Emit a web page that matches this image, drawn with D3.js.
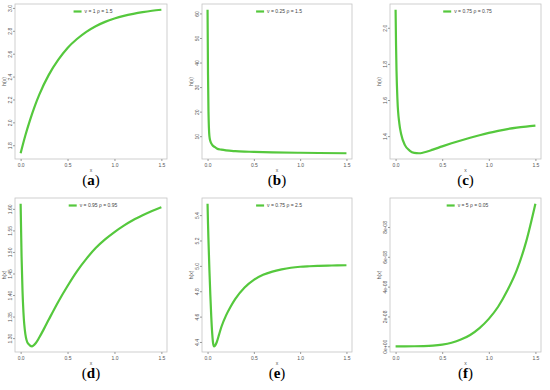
<!DOCTYPE html>
<html>
<head>
<meta charset="utf-8">
<script src="https://cdn.jsdelivr.net/npm/d3@7"></script>
<style>
  body { margin: 0; background: #fff; }
  text { font-family: "Liberation Sans", Arial, sans-serif; }
</style>
</head>
<body>
<div id="chart"></div>
<script>
// values
const xA = [0, 0.05, 0.1, 0.15, 0.2, 0.3, 0.4, 0.5, 0.6, 0.7, 0.8, 0.9, 1.0, 1.1, 1.2, 1.3, 1.4, 1.5];
const hA = [1.73, 1.885, 2.02, 2.14, 2.245, 2.415, 2.545, 2.65, 2.728, 2.791, 2.84, 2.878, 2.907, 2.93, 2.948, 2.963, 2.975, 2.984];

const xB = [0, 0.005, 0.01, 0.02, 0.03, 0.05, 0.08, 0.1, 0.15, 0.2, 0.3, 0.4, 0.5, 0.7, 1.0, 1.2, 1.5];
const hB = [61.5, 35, 20, 10, 8, 6.5, 5.5, 5.0, 4.5, 4.2, 3.9, 3.72, 3.6, 3.42, 3.25, 3.16, 3.05];

const xC = [0, 0.005, 0.01, 0.02, 0.04, 0.06, 0.1, 0.15, 0.2, 0.25, 0.3, 0.4, 0.5, 0.6, 0.7, 0.8, 0.9, 1.0, 1.1, 1.2, 1.3, 1.4, 1.5];
const hC = [2.10, 1.90, 1.76, 1.60, 1.47, 1.41, 1.35, 1.32, 1.307, 1.305, 1.309, 1.325, 1.343, 1.36, 1.376, 1.391, 1.405, 1.418, 1.429, 1.439, 1.447, 1.453, 1.458];

const xD = [0, 0.005, 0.01, 0.02, 0.03, 0.05, 0.08, 0.12, 0.16, 0.2, 0.25, 0.3, 0.4, 0.5, 0.6, 0.7, 0.8, 0.9, 1.0, 1.1, 1.2, 1.3, 1.4, 1.5];
const hD = [1.612, 1.55, 1.49, 1.41, 1.36, 1.31, 1.287, 1.281, 1.288, 1.302, 1.322, 1.343, 1.384, 1.421, 1.455, 1.484, 1.509, 1.529, 1.546, 1.561, 1.574, 1.585, 1.595, 1.604];

const xE = [0, 0.005, 0.01, 0.02, 0.03, 0.04, 0.05, 0.06, 0.07, 0.08, 0.1, 0.125, 0.15, 0.2, 0.25, 0.3, 0.4, 0.5, 0.6, 0.7, 0.8, 0.9, 1.0, 1.1, 1.2, 1.3, 1.4, 1.5];
const hE = [5.49, 5.33, 5.20, 4.97, 4.77, 4.60, 4.47, 4.39, 4.366, 4.37, 4.40, 4.46, 4.52, 4.61, 4.68, 4.74, 4.83, 4.89, 4.93, 4.955, 4.972, 4.985, 4.993, 4.997, 5.0, 5.002, 5.004, 5.005];

const xF = [0, 0.1, 0.2, 0.3, 0.4, 0.5, 0.6, 0.7, 0.8, 0.9, 1.0, 1.1, 1.2, 1.3, 1.4, 1.5];
const hF = [0, 0.0002e-8, 0.003e-8, 0.015e-8, 0.047e-8, 0.116e-8, 0.24e-8, 0.45e-8, 0.76e-8, 1.22e-8, 1.84e-8, 2.65e-8, 3.75e-8, 5.1e-8, 7.0e-8, 9.56e-8];

const xTicks = [0, 0.5, 1.0, 1.5];
const yTicksA = [1.8, 2.0, 2.2, 2.4, 2.6, 2.8, 3.0];
const yTicksB = [10, 20, 30, 40, 50, 60];
const yTicksC = [1.4, 1.6, 1.8, 2.0];
const yTicksD = [1.30, 1.35, 1.40, 1.45, 1.50, 1.55, 1.60];
const yTicksE = [4.4, 4.6, 4.8, 5.0, 5.2, 5.4];
const yTicksF = [0, 2e-8, 4e-8, 6e-8, 8e-8];

const legends = ["ν = 1  ρ = 1.5", "ν = 0.25  ρ = 1.5", "ν = 0.75  ρ = 0.75",
                 "ν = 0.95  ρ = 0.95", "ν = 0.75  ρ = 2.5", "ν = 5  ρ = 0.05"];
const captions = ["a", "b", "c", "d", "e", "f"];

const green = "#55c83d";
const W = 550, H = 390;

const svg = d3.select("#chart").append("svg")
  .attr("width", W).attr("height", H);

// plot boxes (columns / rows)
const cols = [[15, 167], [202, 352], [390, 541]];
const rows = [[4, 159], [198, 352]];

const fmtSci = v => v === 0 ? "0e+00" : (v / 1e-8).toFixed(0) + "e-08";

const panels = [
  {x: xA, h: hA, ticks: yTicksA, fmt: d3.format(".1f")},
  {x: xB, h: hB, ticks: yTicksB, fmt: d3.format("d")},
  {x: xC, h: hC, ticks: yTicksC, fmt: d3.format(".1f")},
  {x: xD, h: hD, ticks: yTicksD, fmt: d3.format(".2f")},
  {x: xE, h: hE, ticks: yTicksE, fmt: d3.format(".1f")},
  {x: xF, h: hF, ticks: yTicksF, fmt: fmtSci}
];

panels.forEach((p, i) => {
  const [x0, x1] = cols[i % 3];
  const [y0, y1] = rows[Math.floor(i / 3)];

  // R style 4% padding of the ranges
  const xs = d3.scaleLinear().domain([-0.06, 1.56]).range([x0, x1]);
  const [lo, hi] = d3.extent(p.h);
  const pad = (hi - lo) * 0.04;
  const ys = d3.scaleLinear().domain([lo - pad, hi + pad]).range([y1, y0]);

  const g = svg.append("g");

  g.append("rect")
    .attr("x", x0).attr("y", y0)
    .attr("width", x1 - x0).attr("height", y1 - y0)
    .attr("fill", "none").attr("stroke", "#c4c4c4").attr("stroke-width", 0.8);

  // x axis
  const ax = g.append("g").attr("transform", `translate(0,${y1})`)
    .call(d3.axisBottom(xs).tickValues(xTicks).tickFormat(d3.format(".1f")).tickSize(2).tickPadding(2));
  ax.select(".domain").remove();
  ax.selectAll("line").attr("stroke", "#999");
  ax.selectAll("text").attr("font-size", 5).attr("fill", "#555")
    .attr("font-family", "Liberation Sans, Arial, sans-serif");

  // y axis, labels parallel to the axis
  const ay = g.append("g").attr("transform", `translate(${x0},0)`)
    .call(d3.axisLeft(ys).tickValues(p.ticks).tickFormat(p.fmt).tickSize(2).tickPadding(2));
  ay.select(".domain").remove();
  ay.selectAll("line").attr("stroke", "#999");
  ay.selectAll("text")
    .attr("font-size", 5).attr("fill", "#555")
    .attr("font-family", "Liberation Sans, Arial, sans-serif")
    .attr("x", null).attr("dy", null)
    .attr("text-anchor", "middle")
    .attr("transform", "translate(-3,0) rotate(-90)");

  g.append("text")
    .attr("x", (x0 + x1) / 2).attr("y", y1 + 13)
    .attr("text-anchor", "middle").attr("font-size", 5).attr("fill", "#555")
    .text("x");

  g.append("text")
    .attr("transform", `translate(${x0 - 9},${(y0 + y1) / 2}) rotate(-90)`)
    .attr("text-anchor", "middle").attr("font-size", 5).attr("fill", "#555")
    .text("h(x)");

  // curve
  const line = d3.line()
    .x((d, k) => xs(p.x[k]))
    .y(d => ys(d))
    .curve(d3.curveMonotoneX);

  g.append("path")
    .datum(p.h)
    .attr("d", line)
    .attr("fill", "none")
    .attr("stroke", green)
    .attr("stroke-width", 2.2)
    .attr("stroke-linejoin", "round");

  // legend at top
  const lg = g.append("g");
  const lt = lg.append("text")
    .attr("y", y0 + 9).attr("font-size", 5).attr("fill", "#444")
    .text(legends[i]);
  const tw = lt.node().getComputedTextLength();
  const total = 8 + 3 + tw;
  const lx = (x0 + x1) / 2 - total / 2 + 2;
  lg.append("line")
    .attr("x1", lx).attr("x2", lx + 8)
    .attr("y1", y0 + 7.5).attr("y2", y0 + 7.5)
    .attr("stroke", green).attr("stroke-width", 2.2);
  lt.attr("x", lx + 11);

  // caption
  const cap = svg.append("text")
    .attr("x", (x0 + x1) / 2).attr("y", y1 + 26)
    .attr("text-anchor", "middle")
    .attr("font-size", 15)
    .attr("fill", "#000")
    .style("font-family", "'Liberation Serif', 'DejaVu Serif', serif");
  cap.append("tspan").text("(");
  cap.append("tspan").attr("font-weight", "bold").text(captions[i]);
  cap.append("tspan").text(")");
});
</script>
</body>
</html>
